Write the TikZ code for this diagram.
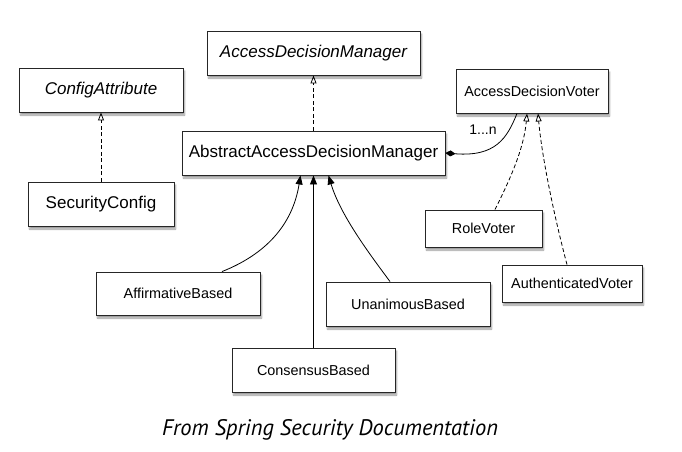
\documentclass[tikz,border=0pt]{standalone}
\usepackage{fontspec}
\setsansfont{Liberation Sans}
\newfontfamily\captionfont{PT Sans}
\usetikzlibrary{arrows.meta,calc,shadows.blur}

\begin{document}
\begin{tikzpicture}[x=1pt, y=-1pt,
  classbox/.style={draw=black!85, fill=white, line width=0.9pt, inner sep=0pt,
    font=\sffamily\fontsize{17}{20}\selectfont,
    blur shadow={shadow xshift=1.5pt, shadow yshift=-3pt, shadow opacity=40, shadow blur steps=6}},
  smallbox/.style={classbox, font=\sffamily\fontsize{14.4}{17}\selectfont},
  realize/.style={line width=0.8pt, dash pattern=on 4pt off 2.5pt,
    -{Triangle[open, length=8pt, width=6pt]}},
  extend/.style={line width=0.8pt, -{Triangle[length=9pt, width=7pt]}}]

  \useasboundingbox (0,0) rectangle (682,451);

  % Interfaces
  \node[classbox, minimum width=213pt, minimum height=44pt] (adm) at (313.5,53)
    {\itshape AccessDecisionManager};
  \node[classbox, minimum width=164pt, minimum height=44pt] (ca) at (101,90)
    {\itshape ConfigAttribute};
  \node[smallbox, minimum width=152pt, minimum height=44pt] (adv) at (532,91)
    {AccessDecisionVoter};

  % Abstract manager and config
  \node[classbox, minimum width=263pt, minimum height=44pt] (abs) at (313.5,153)
    {AbstractAccessDecisionManager};
  \node[classbox, minimum width=146pt, minimum height=44pt] (sc) at (101,204)
    {SecurityConfig};

  % Voters
  \node[smallbox, minimum width=117pt, minimum height=37pt] (rv) at (483.5,228.5)
    {RoleVoter};
  \node[smallbox, minimum width=140pt, minimum height=37pt] (av) at (572,283.5)
    {AuthenticatedVoter};

  % Concrete managers
  \node[smallbox, minimum width=164pt, minimum height=43pt] (ab) at (178,293.5)
    {AffirmativeBased};
  \node[smallbox, minimum width=164pt, minimum height=44pt] (ub) at (408,304)
    {UnanimousBased};
  \node[smallbox, minimum width=163pt, minimum height=44pt] (cb) at (313.5,370)
    {ConsensusBased};

  % Realizations (dashed)
  \draw[realize] (abs.north) -- (adm.south);
  \draw[realize] (sc.north) -- (ca.south);
  \draw[realize] ($(rv.north)+(11.5,0)$) .. controls +(15,-30) and +(-3,35) .. ($(adv.south)+(-5,0)$);
  \draw[realize] ($(av.north)+(-5,0)$) .. controls +(-12,-45) and +(4,45) .. ($(adv.south)+(6,0)$);

  % Generalizations (solid)
  \draw[extend] (cb.north) -- (abs.south);
  \draw[extend] ($(ab.north)+(44,0)$) .. controls +(43,-17) and +(-8,50) .. ($(abs.south)+(-13,0)$);
  \draw[extend] ($(ub.north)+(-18,0)$) .. controls +(-20,-27) and +(12,40) .. ($(abs.south)+(15,0)$);

  % Composition with voters
  \draw[line width=0.8pt, {Diamond[length=10pt, width=6pt]}-]
    (abs.east) .. controls +(50,4) and +(-10,25) .. ($(adv.south)+(-15,0)$);
  \node[font=\sffamily\fontsize{14}{16}\selectfont] (mult) at (483,130) {1...n};

  % Caption
  \node[font=\captionfont\itshape\fontsize{22.5}{26}\selectfont] (caption) at (330,430)
    {From Spring Security Documentation};

\end{tikzpicture}
\end{document}
